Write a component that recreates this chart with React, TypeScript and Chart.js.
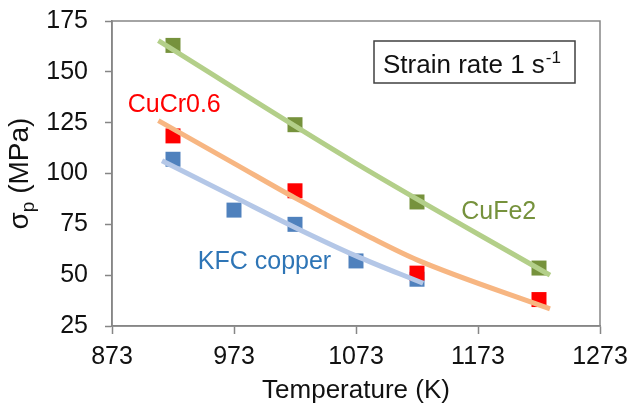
import React, { useEffect, useRef } from 'react';
import { Chart, registerables } from 'chart.js';

Chart.register(...registerables);

// ---- Data ----
const cuFe2Temps = [923, 1023, 1123, 1223];
const cuFe2Values = [163, 124, 86, 53.5];
const cuCrTemps = [923, 1023, 1123, 1223];
const cuCrValues = [118.5, 91.5, 51, 38];
const kfcTemps = [923, 973, 1023, 1073, 1123];
const kfcValues = [107, 82, 75, 57, 48];

// Trend (fit) lines
const cuFe2FitTemps = [911, 1073, 1232];
const cuFe2FitValues = [165.3, 105, 50];
const cuCrFitTemps = [911, 973, 1023, 1085, 1123, 1232];
const cuCrFitValues = [126, 105, 88, 68.5, 57.5, 33.4];
const kfcFitTemps = [914, 973, 1023, 1073, 1128];
const kfcFitValues = [106.3, 88.5, 73.5, 59.5, 46];

const xTickValues = [873, 973, 1073, 1173, 1273];
const yTickValues = [25, 50, 75, 100, 125, 150, 175];

const seriesLabels = [
  { text: 'CuCr0.6', x: 924, y: 133.7, color: '#FF0000' },
  { text: 'KFC copper', x: 998, y: 56.5, color: '#2E75B6' },
  { text: 'CuFe2', x: 1190, y: 80.8, color: '#76923C' },
];

const FONT = '"Liberation Sans", Arial, sans-serif';
const AXIS_COLOR = '#868686';
const TEXT_COLOR = '#111111';

const toPts = (xs: number[], ys: number[]) => xs.map((x, i) => ({ x, y: ys[i] }));

const overlayPlugin = {
  id: 'overlay',
  afterDraw(chart: any) {
    const { ctx, chartArea, scales } = chart;
    const xs = scales.x;
    const ys = scales.y;
    ctx.save();
    // full frame
    ctx.strokeStyle = AXIS_COLOR;
    ctx.lineWidth = 1.5;
    ctx.strokeRect(chartArea.left, chartArea.top, chartArea.right - chartArea.left, chartArea.bottom - chartArea.top);

    // series labels
    ctx.font = `25px ${FONT}`;
    ctx.textAlign = 'center';
    ctx.textBaseline = 'middle';
    for (const l of seriesLabels) {
      ctx.fillStyle = l.color;
      ctx.fillText(l.text, xs.getPixelForValue(l.x), ys.getPixelForValue(l.y));
    }

    // strain rate box
    const boxL = chartArea.right - 226;
    const boxT = chartArea.top + 20;
    const boxW = 201;
    const boxH = 42;
    ctx.strokeStyle = '#404040';
    ctx.lineWidth = 1.5;
    ctx.strokeRect(boxL, boxT, boxW, boxH);
    ctx.fillStyle = TEXT_COLOR;
    ctx.textAlign = 'left';
    ctx.textBaseline = 'alphabetic';
    ctx.font = `26px ${FONT}`;
    const mainText = 'Strain rate 1 s';
    ctx.fillText(mainText, boxL + 9, boxT + 32);
    const w = ctx.measureText(mainText).width;
    ctx.font = `17px ${FONT}`;
    ctx.fillText('-1', boxL + 9 + w + 1, boxT + 22);

    // x-axis title
    ctx.font = `26px ${FONT}`;
    ctx.textAlign = 'center';
    ctx.fillStyle = TEXT_COLOR;
    ctx.fillText('Temperature (K)', (chartArea.left + chartArea.right) / 2, 398);

    // y-axis title (rotated, with subscript)
    ctx.translate(28, (chartArea.top + chartArea.bottom) / 2);
    ctx.rotate(-Math.PI / 2);
    const bigF = `28px ${FONT}`;
    const subF = `19px ${FONT}`;
    ctx.font = bigF;
    const wSigma = ctx.measureText('σ').width;
    const wRest = ctx.measureText(' (MPa)').width;
    ctx.font = subF;
    const wSub = ctx.measureText('p').width;
    const total = wSigma + wSub + wRest;
    let cx = -total / 2;
    ctx.textAlign = 'left';
    ctx.font = bigF;
    ctx.fillText('σ', cx, 0);
    cx += wSigma;
    ctx.font = subF;
    ctx.fillText('p', cx, 6);
    cx += wSub;
    ctx.font = bigF;
    ctx.fillText(' (MPa)', cx, 0);
    ctx.restore();
  },
};

export default function App() {
  const ref = useRef<HTMLCanvasElement | null>(null);

  useEffect(() => {
    if (!ref.current) return;
    const lineDs = (label: string, xs: number[], ys: number[], color: string) => ({
      label,
      data: toPts(xs, ys),
      showLine: true,
      borderColor: color,
      backgroundColor: color,
      borderWidth: 5,
      pointRadius: 0,
      cubicInterpolationMode: 'monotone' as const,
      order: 0,
    });
    const pointDs = (label: string, xs: number[], ys: number[], color: string, order: number) => ({
      label,
      data: toPts(xs, ys),
      showLine: false,
      pointStyle: 'rect' as const,
      pointRadius: 10.6,
      pointBackgroundColor: color,
      pointBorderColor: color,
      pointBorderWidth: 0,
      order,
    });

    const chart = new Chart(ref.current, {
      type: 'scatter',
      data: {
        datasets: [
          lineDs('CuFe2 fit', cuFe2FitTemps, cuFe2FitValues, '#B3CF89'),
          lineDs('CuCr0.6 fit', cuCrFitTemps, cuCrFitValues, '#F7B682'),
          lineDs('KFC copper fit', kfcFitTemps, kfcFitValues, '#B4C7E7'),
          pointDs('CuFe2', cuFe2Temps, cuFe2Values, '#76923C', 1),
          pointDs('CuCr0.6', cuCrTemps, cuCrValues, '#FF0000', 1),
          pointDs('KFC copper', kfcTemps, kfcValues, '#4F81BD', 2),
        ] as any,
      },
      options: {
        responsive: false,
        animation: false,
        layout: { padding: { top: 21, right: 29, left: 0, bottom: 0 } },
        plugins: { legend: { display: false }, tooltip: { enabled: false } },
        scales: {
          x: {
            type: 'linear',
            min: 873,
            max: 1273,
            afterBuildTicks: (s: any) => {
              s.ticks = xTickValues.map((v) => ({ value: v }));
            },
            afterFit: (s: any) => {
              s.height = 82;
              s.paddingLeft = 0;
              s.paddingRight = 0;
            },
            ticks: {
              font: { family: FONT, size: 25 },
              color: TEXT_COLOR,
              padding: 8,
              maxRotation: 0,
              autoSkip: false,
              callback: (v: any) => String(v),
            },
            grid: { drawOnChartArea: false, drawTicks: true, tickLength: 8, color: AXIS_COLOR, tickWidth: 1.5 },
            border: { display: true, color: AXIS_COLOR, width: 1.5 },
          },
          y: {
            type: 'linear',
            min: 25,
            max: 175,
            afterBuildTicks: (s: any) => {
              s.ticks = yTickValues.map((v) => ({ value: v }));
            },
            afterFit: (s: any) => {
              s.width = 112;
              s.paddingTop = 0;
              s.paddingBottom = 0;
            },
            ticks: {
              font: { family: FONT, size: 25 },
              color: TEXT_COLOR,
              padding: 17,
              autoSkip: false,
              callback: (v: any) => String(v),
            },
            grid: { drawOnChartArea: false, drawTicks: true, tickLength: 7, color: AXIS_COLOR, tickWidth: 1.5 },
            border: { display: true, color: AXIS_COLOR, width: 1.5 },
          },
        },
      } as any,
      plugins: [overlayPlugin],
    });
    return () => chart.destroy();
  }, []);

  return (
    <div style={{ position: 'fixed', left: 0, top: 0, width: 629, height: 408, background: '#fff' }}>
      <canvas ref={ref} width={629} height={408} style={{ display: 'block' }} />
    </div>
  );
}
